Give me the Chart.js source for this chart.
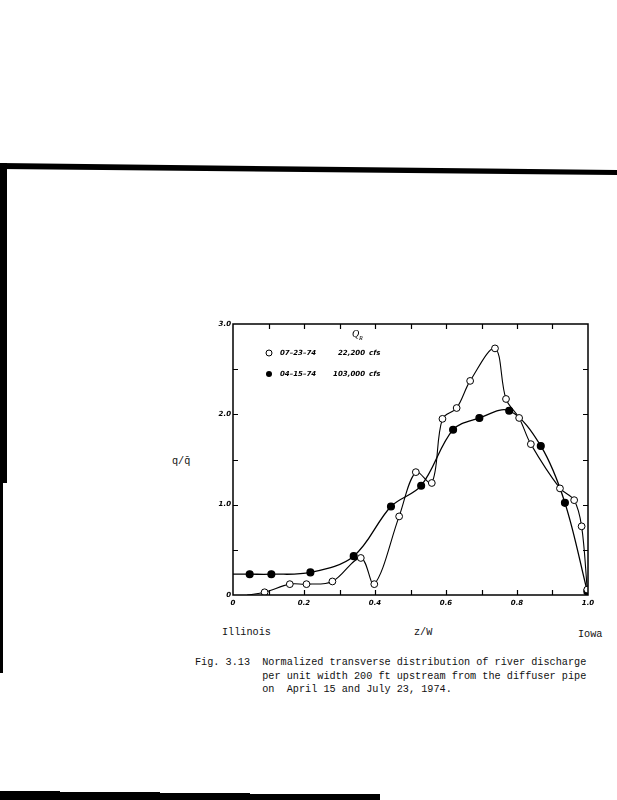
<!DOCTYPE html>
<html>
<head>
<meta charset="utf-8">
<script src="https://cdn.jsdelivr.net/npm/chart.js@4.4.1/dist/chart.umd.min.js"></script>
<style>
  html, body { margin: 0; padding: 0; background: #fff; }
  body { width: 617px; height: 800px; position: relative; overflow: hidden; }
  .txt { position: absolute; font-family: "Liberation Mono", "DejaVu Sans Mono", monospace; font-size: 10.2px; color: #111; white-space: pre; line-height: 13.5px; }
  #wrap { position: absolute; left: 200px; top: 310px; }
  svg { position: absolute; left: 0; top: 0; }
</style>
</head>
<body>
<!-- bordas do scan -->
<svg width="617" height="800">
  <polygon points="0,163 617,170 617,175 0,169" fill="#000"/>
  <rect x="0" y="163" width="7" height="320" fill="#000"/>
  <rect x="0" y="483" width="3" height="190" fill="#000"/>
  <polygon points="0,791 60,791 60,792 160,792 160,793 250,793 250,794 380,794 380,796 0,796" fill="#000"/>
  <rect x="0" y="796" width="380" height="4" fill="#000"/>
</svg>

<div id="wrap"><canvas id="grafico" width="400" height="305"></canvas></div>

<div class="txt" style="left:172px; top:455px;">q/q̄</div>
<div class="txt" style="left:222px; top:626px;">Illinois</div>
<div class="txt" style="left:414px; top:626px;">z/W</div>
<div class="txt" style="left:578px; top:628px;">Iowa</div>
<div class="txt" style="left:195px; top:656px;">Fig. 3.13  Normalized transverse distribution of river discharge
           per unit width 200 ft upstream from the diffuser pipe
           on  April 15 and July 23, 1974.</div>

<script>
// Dados (z/W, q/q-barra)
const dataA = "07-23-74";
const vazaoA = "22,200 cfs";
const xA = [0.04, 0.089, 0.16, 0.207, 0.28, 0.36, 0.398, 0.468, 0.515, 0.56, 0.59, 0.63, 0.668, 0.738, 0.769, 0.806, 0.839, 0.921, 0.961, 0.982, 0.998];
const yA = [0.0, 0.03, 0.12, 0.12, 0.15, 0.41, 0.12, 0.87, 1.36, 1.24, 1.95, 2.07, 2.37, 2.73, 2.17, 1.96, 1.67, 1.18, 1.05, 0.76, 0.06];

const dataB = "04-15-74";
const vazaoB = "103,000 cfs";
const xB = [0.0, 0.047, 0.108, 0.218, 0.34, 0.445, 0.53, 0.62, 0.694, 0.778, 0.867, 0.935, 0.998];
const yB = [0.23, 0.23, 0.23, 0.25, 0.43, 0.98, 1.21, 1.83, 1.96, 2.04, 1.65, 1.02, 0.04];

const xTicks = [0, 0.2, 0.4, 0.6, 0.8, 1.0];
const yTicks = [0, 1.0, 2.0, 3.0];

const pontos = (xs, ys) => xs.map((x, i) => ({ x: x, y: ys[i] }));

// moldura com marcas internas + legenda dentro do grafico
const moldura = {
  id: "moldura",
  afterDraw(chart) {
    const { ctx, chartArea: a, scales: { x, y } } = chart;
    ctx.save();
    ctx.strokeStyle = "#000";
    ctx.lineWidth = 1.5;
    ctx.strokeRect(a.left, a.top, a.right - a.left, a.bottom - a.top);
    ctx.lineWidth = 1.2;
    for (let v = 0.1; v < 0.95; v += 0.1) {
      const px = Math.round(x.getPixelForValue(v)) + 0.5;
      ctx.beginPath();
      ctx.moveTo(px, a.bottom); ctx.lineTo(px, a.bottom - 5);
      ctx.moveTo(px, a.top); ctx.lineTo(px, a.top + 5);
      ctx.stroke();
    }
    for (let v = 0.5; v < 3; v += 0.5) {
      const py = Math.round(y.getPixelForValue(v)) + 0.5;
      ctx.beginPath();
      ctx.moveTo(a.left, py); ctx.lineTo(a.left + 5, py);
      ctx.moveTo(a.right, py); ctx.lineTo(a.right - 5, py);
      ctx.stroke();
    }

    // legenda
    ctx.fillStyle = "#000";
    ctx.font = "italic 10px 'Liberation Serif', serif";
    ctx.fillText("Q", a.left + 119, a.top + 13);
    ctx.font = "italic 6px 'Liberation Serif', serif";
    ctx.fillText("R", a.left + 126, a.top + 16);

    ctx.font = "italic bold 7px 'DejaVu Sans', sans-serif";
    const linhas = [[dataA, vazaoA, false, 29], [dataB, vazaoB, true, 50]];
    linhas.forEach(([d, q, cheio, dy]) => {
      const cy = a.top + dy;
      ctx.beginPath();
      ctx.arc(a.left + 36, cy, 3, 0, Math.PI * 2);
      ctx.lineWidth = 1;
      if (cheio) { ctx.fill(); } else { ctx.stroke(); }
      ctx.textBaseline = "middle";
      ctx.textAlign = "left";
      ctx.fillText(d.replace(/-/g, "\u2013"), a.left + 47, cy);
      const [num, un] = q.split(" ");
      ctx.textAlign = "right";
      ctx.fillText(num, a.left + 132, cy);
      ctx.textAlign = "left";
      ctx.fillText(un, a.left + 136, cy);
    });
    ctx.restore();
  }
};

const raio = c => (c.dataIndex === 0 ? 0 : 3.4);

new Chart(document.getElementById("grafico"), {
  type: "line",
  data: {
    datasets: [
      {
        label: dataA,
        data: pontos(xA, yA),
        borderColor: "#000",
        borderWidth: 1.1,
        backgroundColor: "#fff",
        pointBackgroundColor: "#fff",
        pointBorderColor: "#000",
        pointBorderWidth: 1,
        pointRadius: raio,
        tension: 0.35,
        fill: false
      },
      {
        label: dataB,
        data: pontos(xB, yB),
        borderColor: "#000",
        borderWidth: 1.3,
        backgroundColor: "#000",
        pointBackgroundColor: "#000",
        pointBorderColor: "#000",
        pointRadius: raio,
        tension: 0.35,
        fill: false
      }
    ]
  },
  options: {
    responsive: false,
    devicePixelRatio: 1,
    animation: false,
    layout: { padding: { left: 13, right: 12, top: 14, bottom: 4 } },
    plugins: { legend: { display: false }, tooltip: { enabled: false } },
    scales: {
      x: {
        type: "linear",
        min: 0,
        max: 1,
        afterFit: s => { s.height = 16; },
        afterBuildTicks: s => { s.ticks = xTicks.map(v => ({ value: v })); },
        grid: { display: false, drawTicks: false },
        border: { display: false },
        ticks: {
          padding: 4,
          maxRotation: 0,
          color: "#000",
          font: { size: 7, style: "italic", weight: "bold", family: "DejaVu Sans" },
          callback: v => (v === 0 ? "0" : v.toFixed(1))
        }
      },
      y: {
        type: "linear",
        min: 0,
        max: 3,
        afterFit: s => { s.width = 20; },
        afterBuildTicks: s => { s.ticks = yTicks.map(v => ({ value: v })); },
        grid: { display: false, drawTicks: false },
        border: { display: false },
        ticks: {
          padding: 2,
          color: "#000",
          font: { size: 7, style: "italic", weight: "bold", family: "DejaVu Sans" },
          callback: v => (v === 0 ? "0" : v.toFixed(1))
        }
      }
    }
  },
  plugins: [moldura]
});
</script>
</body>
</html>
